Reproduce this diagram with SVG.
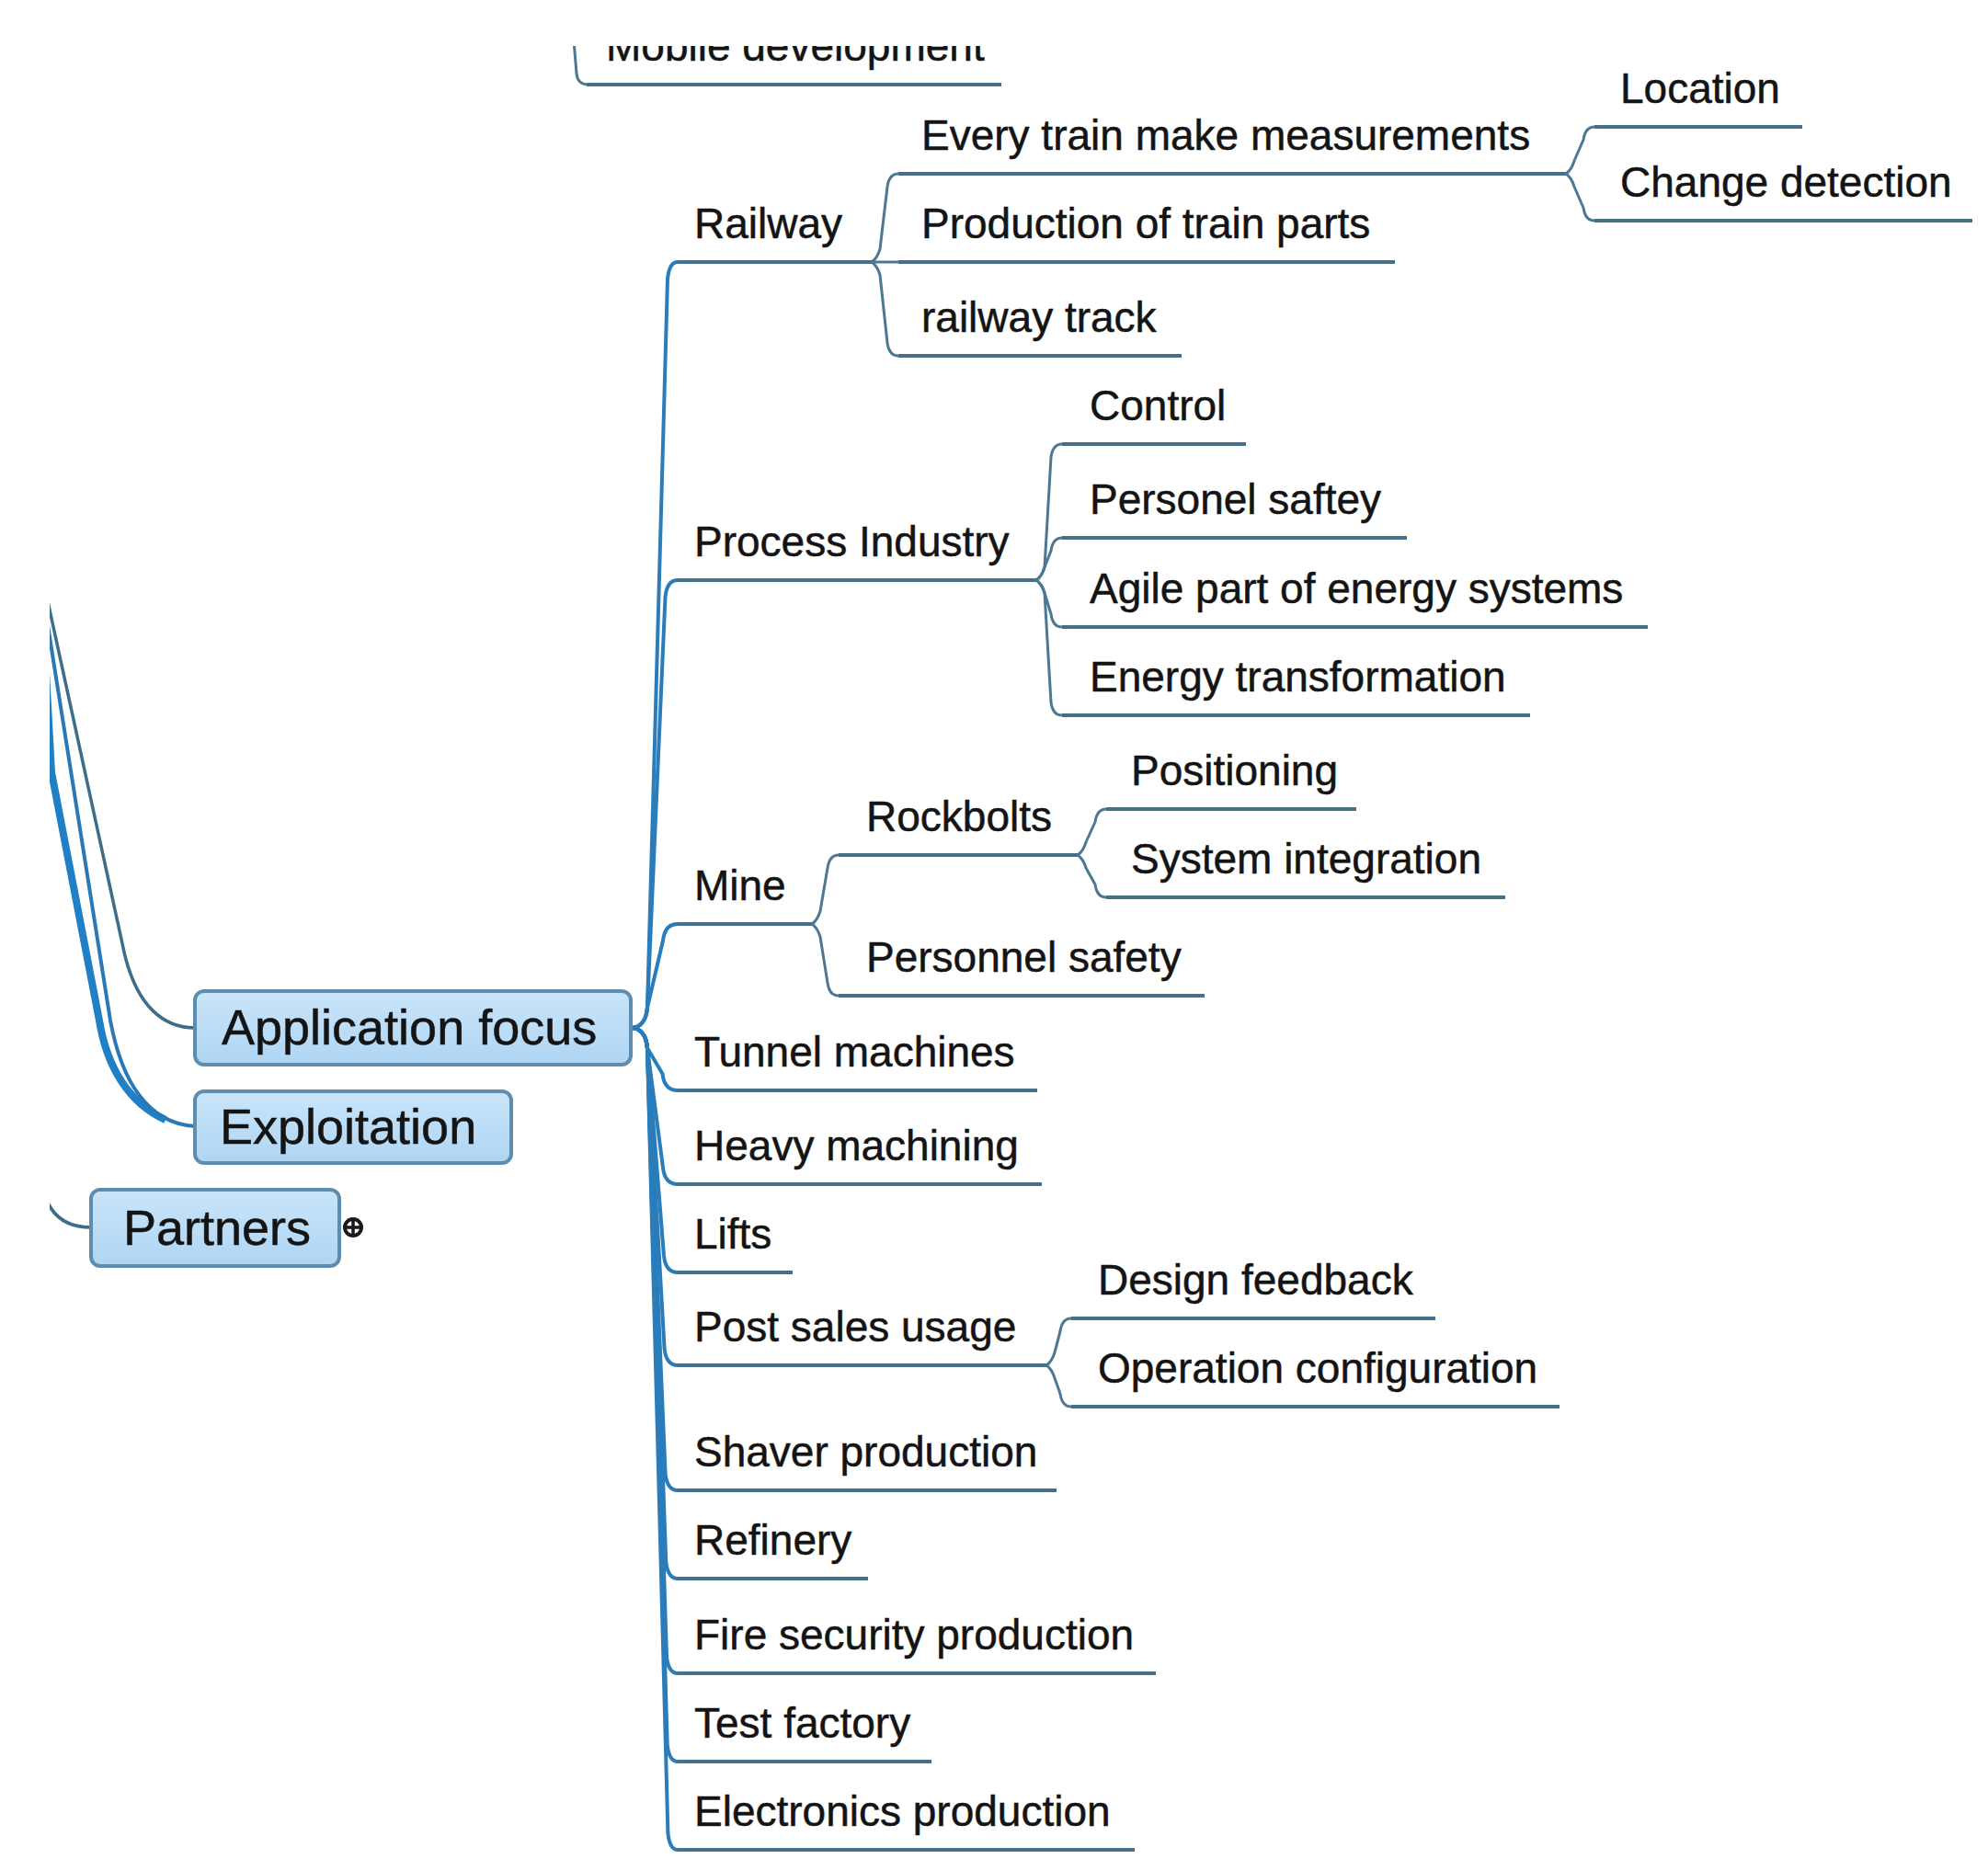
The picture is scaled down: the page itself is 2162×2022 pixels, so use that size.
<svg xmlns="http://www.w3.org/2000/svg" width="2162" height="2022" viewBox="0 0 2162 2022">
<defs>
<clipPath id="view"><rect x="54" y="50" width="2108" height="1972"/></clipPath>
<linearGradient id="boxg" x1="0" y1="0" x2="0" y2="1">
<stop offset="0" stop-color="#c9e5fa"/><stop offset="1" stop-color="#afd5f3"/>
</linearGradient>
<style>
.t{font-family:"Liberation Sans",Arial,sans-serif;font-size:46px;fill:#141414;stroke:#141414;stroke-width:0.5}
.bt{font-family:"Liberation Sans",Arial,sans-serif;font-size:54px;fill:#141414;stroke:#141414;stroke-width:0.5}
.ul{stroke:#46708a;stroke-width:4;fill:none}
.c{stroke:#4d7892;stroke-width:3;fill:none;stroke-linejoin:round}
.tr{stroke:#2a7dba;stroke-width:4;fill:none;stroke-linejoin:round}
.lf{stroke:#2a79b6;stroke-width:4;fill:none}
.lfd{stroke:#3d6d88;stroke-width:3.5;fill:none}
.box{fill:url(#boxg);stroke:#5f8db0;stroke-width:4}
</style>
</defs>
<rect width="2162" height="2022" fill="#ffffff"/>
<g clip-path="url(#view)">
<g id="connectors">
<path class="lf" style="stroke-width:8;stroke:#1f80c6" d="M46 660 L56 840 L108 1110 C116 1160 140 1200 180 1218"/>
<path class="lf" d="M48 655 L120 1110 C132 1175 160 1222 212 1225"/>
<path class="lfd" d="M50 645 L136 1040 C150 1095 178 1118 212 1118"/>
<path class="lfd" d="M46 1290 C52 1320 70 1335 99 1335"/>
<path class="c" d="M622 20 L627 80 Q628 92 640 92"/>
<path class="tr" d="M686 1118 C698 1118 703 1108 704 1096 L726 303 Q728 285 737 285"/>
<path class="tr" d="M686 1118 C698 1118 703 1108 704 1096 L723.5 649 Q725.5 631 737 631"/>
<path class="tr" d="M686 1118 C698 1118 703 1108 704 1096 L721 1023 Q723 1005 737 1005"/>
<path class="tr" d="M686 1118 C698 1118 703 1128 704 1140 L720.5 1168 Q722.5 1186 737 1186"/>
<path class="tr" d="M686 1118 C698 1118 703 1128 704 1140 L721 1270 Q723 1288 737 1288"/>
<path class="tr" d="M686 1118 C698 1118 703 1128 704 1140 L722 1366 Q724 1384 737 1384"/>
<path class="tr" d="M686 1118 C698 1118 703 1128 704 1140 L722.6 1467 Q724.6 1485 737 1485"/>
<path class="tr" d="M686 1118 C698 1118 703 1128 704 1140 L723.6 1603 Q725.6 1621 737 1621"/>
<path class="tr" d="M686 1118 C698 1118 703 1128 704 1140 L724.3 1699 Q726.3 1717 737 1717"/>
<path class="tr" d="M686 1118 C698 1118 703 1128 704 1140 L725 1802 Q727 1820 737 1820"/>
<path class="tr" d="M686 1118 C698 1118 703 1128 704 1140 L725.7 1898 Q727.7 1916 737 1916"/>
<path class="tr" d="M686 1118 C698 1118 703 1128 704 1140 L726.4 1994 Q728.4 2012 737 2012"/>
<path class="c" d="M948 285 Q954 281 957 271 L965 203 Q967 189 977 189"/>
<path class="c" d="M948 285 L977 285"/>
<path class="c" d="M948 285 Q954 289 957 299 L965 373 Q967 387 977 387"/>
<path class="c" d="M1703 189 Q1709 185 1712 175 L1722 152 Q1724 138 1734 138"/>
<path class="c" d="M1703 189 Q1709 193 1712 203 L1722 226 Q1724 240 1734 240"/>
<path class="c" d="M1127 631 Q1133 627 1136 617 L1143 497 Q1145 483 1155 483"/>
<path class="c" d="M1127 631 Q1133 627 1136 617 L1143 599 Q1145 585 1155 585"/>
<path class="c" d="M1127 631 Q1133 635 1136 645 L1143 668 Q1145 682 1155 682"/>
<path class="c" d="M1127 631 Q1133 635 1136 645 L1143 764 Q1145 778 1155 778"/>
<path class="c" d="M883 1005 Q889 1001 892 991 L900 944 Q902 930 912 930"/>
<path class="c" d="M883 1005 Q889 1009 892 1019 L900 1069 Q902 1083 912 1083"/>
<path class="c" d="M1172 930 Q1178 926 1181 916 L1191 894 Q1193 880 1203 880"/>
<path class="c" d="M1172 930 Q1178 934 1181 944 L1191 962 Q1193 976 1203 976"/>
<path class="c" d="M1138 1485 Q1144 1481 1147 1471 L1153 1448 Q1155 1434 1165 1434"/>
<path class="c" d="M1138 1485 Q1144 1489 1147 1499 L1153 1516 Q1155 1530 1165 1530"/>
</g>

<g id="n-mobile"><line class="ul" x1="638" y1="92" x2="1089" y2="92"/><text class="t" x="659" y="66">Mobile development</text></g>

<g id="n-appfocus"><rect class="box" x="212" y="1078" width="474" height="80" rx="10"/><text class="bt" x="241" y="1136">Application focus</text></g>
<g id="n-exploitation"><rect class="box" x="212" y="1187" width="344" height="78" rx="10"/><text class="bt" x="239" y="1244">Exploitation</text></g>
<g id="n-partners"><rect class="box" x="99" y="1294" width="270" height="83" rx="10"/><text class="bt" x="134" y="1354">Partners</text>
<circle cx="384" cy="1335" r="9" fill="#ffffff" stroke="#1a1a1a" stroke-width="4"/><path d="M377 1335 H391 M384 1328 V1342" stroke="#1a1a1a" stroke-width="3.5"/></g>

<g id="n-railway"><line class="ul" x1="737" y1="285" x2="948" y2="285"/><text class="t" x="755" y="259">Railway</text></g>
<g id="n-process"><line class="ul" x1="737" y1="631" x2="1127" y2="631"/><text class="t" x="755" y="605">Process Industry</text></g>
<g id="n-mine"><line class="ul" x1="737" y1="1005" x2="883" y2="1005"/><text class="t" x="755" y="979">Mine</text></g>
<g id="n-tunnel"><line class="ul" x1="737" y1="1186" x2="1128" y2="1186"/><text class="t" x="755" y="1160">Tunnel machines</text></g>
<g id="n-heavy"><line class="ul" x1="737" y1="1288" x2="1133" y2="1288"/><text class="t" x="755" y="1262">Heavy machining</text></g>
<g id="n-lifts"><line class="ul" x1="737" y1="1384" x2="862" y2="1384"/><text class="t" x="755" y="1358">Lifts</text></g>
<g id="n-postsales"><line class="ul" x1="737" y1="1485" x2="1138" y2="1485"/><text class="t" x="755" y="1459">Post sales usage</text></g>
<g id="n-shaver"><line class="ul" x1="737" y1="1621" x2="1149" y2="1621"/><text class="t" x="755" y="1595">Shaver production</text></g>
<g id="n-refinery"><line class="ul" x1="737" y1="1717" x2="944" y2="1717"/><text class="t" x="755" y="1691">Refinery</text></g>
<g id="n-fire"><line class="ul" x1="737" y1="1820" x2="1257" y2="1820"/><text class="t" x="755" y="1794">Fire security production</text></g>
<g id="n-test"><line class="ul" x1="737" y1="1916" x2="1013" y2="1916"/><text class="t" x="755" y="1890">Test factory</text></g>
<g id="n-electronics"><line class="ul" x1="737" y1="2012" x2="1234" y2="2012"/><text class="t" x="755" y="1986">Electronics production</text></g>

<g id="n-everytrain"><line class="ul" x1="977" y1="189" x2="1703" y2="189"/><text class="t" x="1002" y="163">Every train make measurements</text></g>
<g id="n-trainparts"><line class="ul" x1="977" y1="285" x2="1517" y2="285"/><text class="t" x="1002" y="259">Production of train parts</text></g>
<g id="n-track"><line class="ul" x1="977" y1="387" x2="1285" y2="387"/><text class="t" x="1002" y="361">railway track</text></g>
<g id="n-location"><line class="ul" x1="1734" y1="138" x2="1960" y2="138"/><text class="t" x="1762" y="112">Location</text></g>
<g id="n-change"><line class="ul" x1="1734" y1="240" x2="2145" y2="240"/><text class="t" x="1762" y="214">Change detection</text></g>

<g id="n-control"><line class="ul" x1="1155" y1="483" x2="1355" y2="483"/><text class="t" x="1185" y="457">Control</text></g>
<g id="n-personel"><line class="ul" x1="1155" y1="585" x2="1530" y2="585"/><text class="t" x="1185" y="559">Personel saftey</text></g>
<g id="n-agile"><line class="ul" x1="1155" y1="682" x2="1792" y2="682"/><text class="t" x="1185" y="656">Agile part of energy systems</text></g>
<g id="n-energy"><line class="ul" x1="1155" y1="778" x2="1664" y2="778"/><text class="t" x="1185" y="752">Energy transformation</text></g>

<g id="n-rockbolts"><line class="ul" x1="912" y1="930" x2="1172" y2="930"/><text class="t" x="942" y="904">Rockbolts</text></g>
<g id="n-personnelsafety"><line class="ul" x1="912" y1="1083" x2="1310" y2="1083"/><text class="t" x="942" y="1057">Personnel safety</text></g>
<g id="n-positioning"><line class="ul" x1="1203" y1="880" x2="1475" y2="880"/><text class="t" x="1230" y="854">Positioning</text></g>
<g id="n-sysint"><line class="ul" x1="1203" y1="976" x2="1637" y2="976"/><text class="t" x="1230" y="950">System integration</text></g>

<g id="n-design"><line class="ul" x1="1165" y1="1434" x2="1561" y2="1434"/><text class="t" x="1194" y="1408">Design feedback</text></g>
<g id="n-operation"><line class="ul" x1="1165" y1="1530" x2="1696" y2="1530"/><text class="t" x="1194" y="1504">Operation configuration</text></g>
</g>
</svg>
